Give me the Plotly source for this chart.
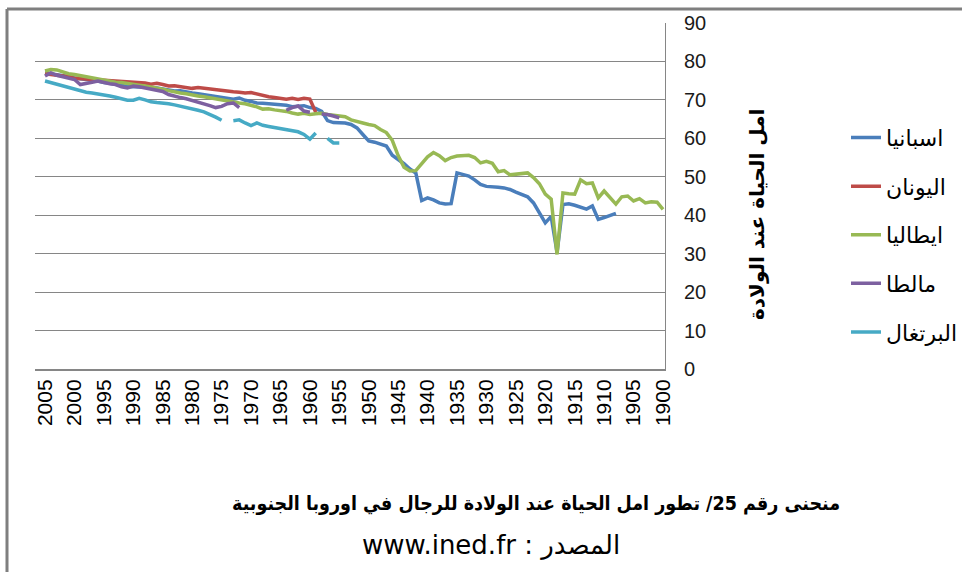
import plotly.graph_objects as go

years = list(range(2005, 1899, -1))

spain = [77.0, 76.8, 76.4, 76.3, 76.1, 75.7, 75.4, 75.3, 75.2, 74.8,
         74.5, 74.3, 74.0, 73.9, 73.5, 73.4, 73.4, 73.3, 73.2, 73.1,
         72.8, 72.6, 72.3, 72.4, 72.0, 71.8, 71.6, 71.4, 71.2, 71.0,
         70.8, 70.6, 70.2, 70.5, 69.9, 69.6, 69.2, 69.1, 69.0, 68.9,
         68.8, 68.6, 68.2, 68.4, 68.5, 68.0, 67.8, 67.0, 64.6, 64.1,
         64.0, 64.0, 63.6, 62.7, 61.0, 59.3, 59.0, 58.6, 58.0, 55.6,
         54.5, 53.4, 52.0, 51.0, 43.8, 44.5, 44.0, 43.2, 42.9, 43.0,
         51.0, 50.6, 50.2, 49.2, 48.0, 47.5, 47.5, 47.3, 47.1, 46.7,
         46.0, 45.4, 44.8, 43.2, 40.5, 38.0, 39.7, 30.3, 42.8, 43.0,
         42.6, 42.0, 41.6, 42.4, 38.9, 39.4, 39.9, 40.5,
         None, None, None, None, None, None, None, None]

greece = [76.8, 76.6, 76.5, 76.4, 76.0, 75.6, 75.5, 75.4, 75.3, 75.1,
          75.0, 75.0, 74.9, 74.8, 74.6, 74.7, 74.5, 74.4, 74.1, 74.3,
          74.0, 73.6, 73.7, 73.5, 73.2, 73.0, 73.2, 73.0, 72.7, 72.6,
          72.4, 72.2, 72.1, 72.0, 71.8, 71.9, 71.5, 71.2, 70.8, 70.6,
          70.5, 70.2, 70.4, 70.1, 70.4, 70.2, 66.8] + [None] * 59

italy = [77.5, 77.9, 77.8, 77.2, 76.8, 76.6, 76.3, 76.0, 75.8, 75.5,
         75.2, 75.0, 74.6, 74.5, 74.2, 74.0, 73.8, 73.6, 73.4, 73.1,
         72.8, 72.4, 72.0, 71.8, 71.6, 71.2, 71.0, 70.8, 70.5, 70.2,
         70.0, 69.7, 69.3, 69.2, 69.0, 68.7, 68.2, 67.6, 67.7, 67.4,
         67.3, 67.0, 66.6, 66.3, 66.5, 66.2, 66.4, 66.5, 66.2, 66.0,
         65.9, 65.6, 64.8, 64.3, 64.0, 63.6, 63.3, 62.3, 61.5, 59.5,
         55.5, 52.5, 51.5, 51.6, 53.5, 55.2, 56.3, 55.5, 54.2, 55.0,
         55.4, 55.4, 55.6, 55.0, 53.6, 54.0, 53.5, 51.3, 51.6, 50.5,
         50.6, 50.7, 51.0, 49.8, 48.2, 45.5, 44.2, 29.8, 45.8, 45.6,
         45.5, 49.2, 48.2, 48.4, 44.5, 46.3, 44.5, 42.9, 44.8, 45.0,
         43.7, 44.3, 43.2, 43.5, 43.4, 41.5]

malta = [76.2, 77.0, 76.4, 76.0, 75.7, 75.3, 74.0, 74.4, 74.6, 74.9,
         74.5, 74.2, 74.0, 73.4, 73.1, 73.6, 73.4, 73.1, 73.0, 72.7,
         72.2, 71.4, 70.9, 70.6, 70.3, 69.9, 69.5, 69.0, 68.5, 68.0,
         68.3, 69.0, 69.2, 68.0,
         None, None, None, None, None, None, None,
         67.3, 68.0, 68.4, 67.1, 66.8, None, 66.3, 66.2, 65.8, 65.3] + [None] * 55

portugal = [74.9, 74.5, 74.1, 73.6, 73.2, 72.8, 72.3, 72.0, 71.8, 71.6,
            71.3, 71.0, 70.7, 70.3, 69.9, 69.9, 70.4, 70.0, 69.5, 69.3,
            69.2, 69.0, 68.7, 68.4, 68.1, 67.8, 67.3, 66.9, 66.3, 65.5,
            64.7, None, 64.6, 64.8, 64.0, 63.3, 64.0, 63.4, 63.1, 62.8,
            62.6, 62.3, 62.1, 61.7, 61.0, 59.8, 61.4, None, 60.0, 58.8,
            58.8] + [None] * 55

series_names = ["اسبانيا", "اليونان", "ايطاليا", "مالطا", "البرتغال"]
series_values = [spain, greece, italy, malta, portugal]
series_colors = ["#4A7EBB", "#BE4B48", "#98B954", "#7D60A0", "#46AAC5"]

tick_years = list(range(2005, 1899, -5))
tick_labels = [str(y) for y in tick_years]
y_ticks = list(range(0, 91, 10))

y_title = "امل الحياة عند الولادة"
chart_title = "منحنى رقم 25/ تطور امل الحياة عند الولادة للرجال في اوروبا الجنوبية"
source_line = "\u202bالمصدر : www.ined.fr\u202c"

for s in series_values:
    assert len(s) == len(years), len(s)

fig = go.Figure()
for i, (name, vals, col) in enumerate(zip(series_names, series_values, series_colors)):
    fig.add_trace(go.Scatter(
        x=years, y=vals, name=name, mode="lines",
        line=dict(color=col, width=3.5),
        legendgroup=f"g{i}", connectgaps=False,
    ))

GRID = "#868686"
PW, PH = 630, 346
fig.update_layout(
    width=962, height=572,
    margin=dict(l=35, r=962 - 35 - PW, t=23, b=572 - 23 - PH, autoexpand=False),
    paper_bgcolor="white", plot_bgcolor="white",
    showlegend=True,
    legend=dict(
        x=(846 - 35) / PW, xanchor="left", y=0.729, yanchor="top",
        font=dict(family="DejaVu Sans", size=22, color="#000000"),
        tracegroupgap=17, bgcolor="rgba(0,0,0,0)",
    ),
    xaxis=dict(
        range=[2006.7, 1899.66], automargin=False,
        tickmode="array", tickvals=tick_years, ticktext=tick_labels,
        tickangle=-90, showgrid=False, zeroline=False,
        showline=True, linecolor=GRID, linewidth=2,
        ticks="", tickfont=dict(family="Liberation Sans", size=21, color="#000000"),
    ),
    yaxis=dict(
        range=[0, 90], side="right", tickmode="array", tickvals=y_ticks,
        automargin=False,
        showgrid=True, gridcolor=GRID, gridwidth=1, zeroline=False,
        showline=True, linecolor=GRID, linewidth=1, ticks="",
        ticklabelstandoff=14,
        tickfont=dict(family="Liberation Sans", size=20, color="#1a1a1a"),
    ),
    annotations=[
        dict(text=y_title, xref="paper", yref="paper", x=(771 - 35) / PW, y=0.445,
             textangle=-90, showarrow=False,
             font=dict(family="DejaVu Sans", size=20, color="#000000", weight="bold")),
        dict(text=chart_title, xref="paper", yref="paper", x=(842 - 35) / PW, y=-0.427,
             showarrow=False,
             font=dict(family="DejaVu Sans Condensed, DejaVu Sans", size=19.5,
                       color="#000000", weight="bold")),
        dict(text=source_line, xref="paper", yref="paper", x=(622 - 35) / PW, y=-0.558,
             showarrow=False,
             font=dict(family="DejaVu Sans", size=26, color="#000000")),
    ],
    shapes=[
        dict(type="line", xref="paper", yref="paper",
             x0=-28 / PW, x1=(962 - 35) / PW, y0=(369 - 9) / PH, y1=(369 - 9) / PH,
             line=dict(color="#7f7f7f", width=3)),
        dict(type="line", xref="paper", yref="paper",
             x0=-28 / PW, x1=-28 / PW, y0=(369 - 9) / PH, y1=(369 - 575) / PH,
             line=dict(color="#7f7f7f", width=3)),
    ],
)

fig.write_html("out.html", config={"displayModeBar": False},
               post_script="document.body.style.margin='0';")
